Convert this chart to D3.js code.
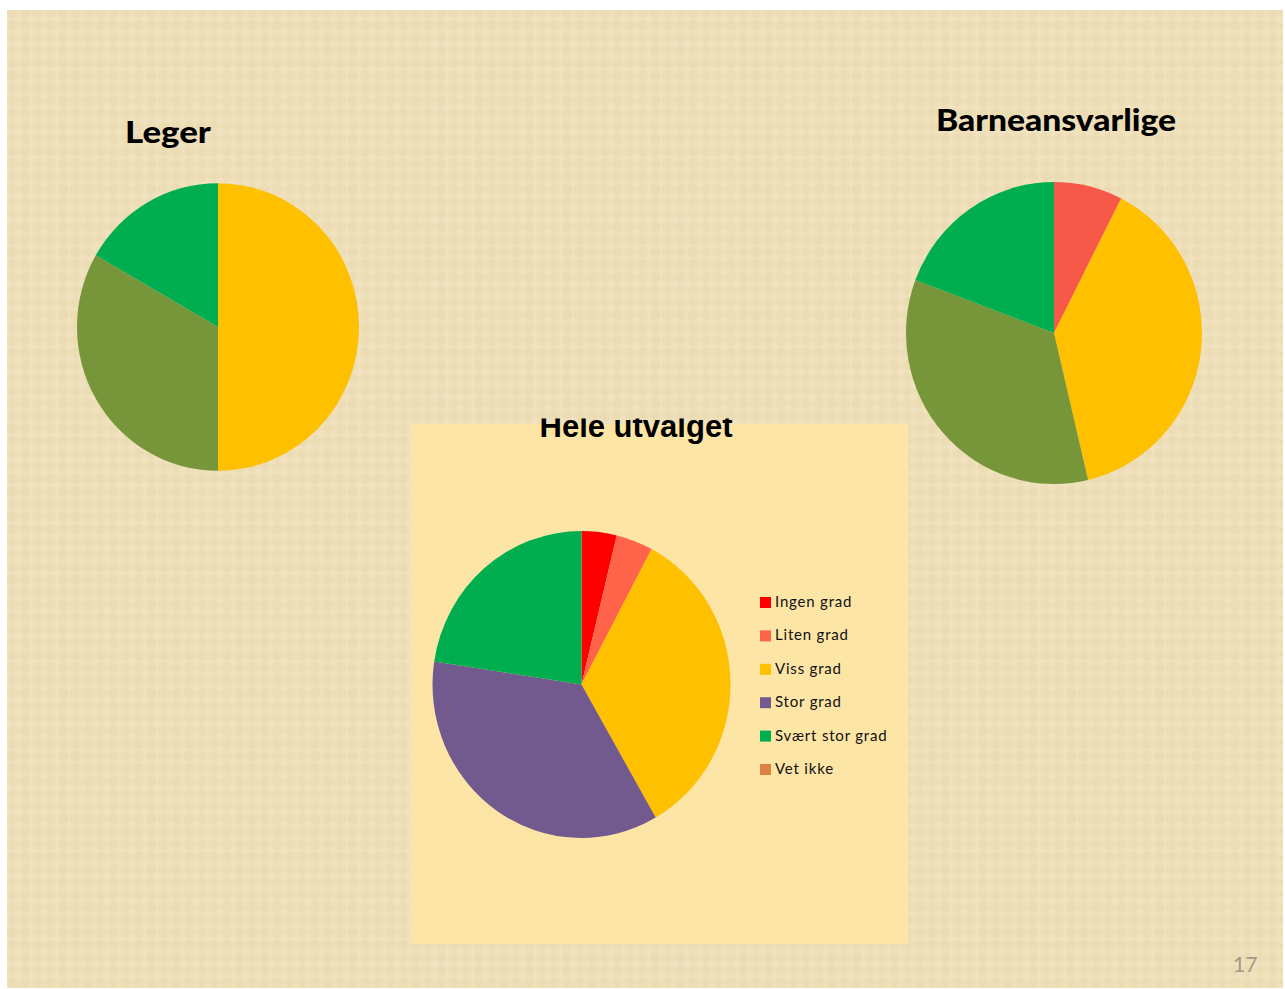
<!DOCTYPE html>
<html>
<head>
<meta charset="utf-8">
<script src="https://cdn.jsdelivr.net/npm/d3@7"></script>
<style>
  html, body { margin: 0; padding: 0; background: #ffffff; }
  svg { display: block; }
</style>
</head>
<body>
<svg id="chart" width="1285" height="989"></svg>
<script>
// ---- Data ----
const categories = ["Ingen grad", "Liten grad", "Viss grad", "Stor grad", "Svært stor grad", "Vet ikke"];
const legerValues = [0, 0, 50.0, 33.3, 16.7, 0];
const barneValues = [0, 7.5, 38.8, 34.4, 19.3, 0];
const heleValues = [3.8, 4.0, 33.9, 35.7, 22.6, 0];
const chartTitles = ["Leger", "Barneansvarlige", "Hele utvalget"];
const pageNumber = "17";

// ---- Colours ----
const heleColors = ["#ff0000", "#ff6349", "#ffc000", "#725a8f", "#00ae50", "#dc8244"];
const subColors  = ["#ff0000", "#f6594a", "#ffc000", "#77963a", "#00ae50", "#dc8244"];

const svg = d3.select("#chart");
const defs = svg.append("defs");

// textured slide background
const T = 12.6;
const pat = defs.append("pattern")
  .attr("id", "tex").attr("patternUnits", "userSpaceOnUse")
  .attr("width", T).attr("height", T);
pat.append("rect").attr("width", T).attr("height", T).attr("fill", "#ecdcb4");
pat.append("rect").attr("x", 2).attr("y", 2).attr("width", T - 4).attr("height", T - 4).attr("fill", "#efe0ba");
pat.append("rect").attr("x", 5.6).attr("y", 0).attr("width", 1.4).attr("height", T).attr("fill", "#f2e4c2");
pat.append("rect").attr("x", 0).attr("y", 5.6).attr("width", T).attr("height", 1.4).attr("fill", "#f2e4c2");

svg.append("rect").attr("x", 7).attr("y", 10).attr("width", 1276).attr("height", 978)
  .attr("fill", "url(#tex)");

// ---- Pie helper ----
const pie = d3.pie().sort(null).value(d => d.value);

function drawPie(values, colors, cx, cy, r, sy) {
  const data = categories.map((c, i) => ({ cat: c, value: values[i], color: colors[i] }));
  const arc = d3.arc().innerRadius(0).outerRadius(r);
  const g = svg.append("g").attr("transform", `translate(${cx},${cy}) scale(1,${sy})`);
  g.selectAll("path")
    .data(pie(data).filter(d => d.data.value > 0))
    .join("path")
    .attr("d", arc)
    .attr("fill", d => d.data.color);
}

// Leger
svg.append("text").attr("x", 125).attr("y", 143)
  .attr("font-family", "Lato, 'Open Sans', sans-serif").attr("font-weight", 900)
  .attr("font-size", 31).attr("fill", "#000")
  .attr("textLength", 86).attr("lengthAdjust", "spacingAndGlyphs")
  .text(chartTitles[0]);
drawPie(legerValues, subColors, 218, 327, 141, 1.02);

// Barneansvarlige
svg.append("text").attr("x", 936).attr("y", 131)
  .attr("font-family", "Lato, 'Open Sans', sans-serif").attr("font-weight", 900)
  .attr("font-size", 31).attr("fill", "#000")
  .attr("textLength", 240).attr("lengthAdjust", "spacingAndGlyphs")
  .text(chartTitles[1]);
drawPie(barneValues, subColors, 1054, 333, 148, 1.02);

// Hele utvalget panel
svg.append("rect").attr("x", 411).attr("y", 424).attr("width", 497).attr("height", 520)
  .attr("fill", "#fde5a5");

defs.append("clipPath").attr("id", "titleClip")
  .append("rect").attr("x", 400).attr("y", 418.5).attr("width", 520).attr("height", 60);

svg.append("text").attr("x", 636).attr("y", 437)
  .attr("clip-path", "url(#titleClip)")
  .attr("text-anchor", "middle")
  .attr("font-family", "'Liberation Sans', Arial, sans-serif").attr("font-weight", 700)
  .attr("font-size", 31).attr("fill", "#000")
  .text(chartTitles[2]);

drawPie(heleValues, heleColors, 581.5, 684.5, 149, 1.03);

// Legend
const legend = svg.append("g").attr("transform", "translate(760,597)");
const rows = legend.selectAll("g").data(categories).join("g")
  .attr("transform", (d, i) => `translate(0,${i * 33.4})`);
rows.append("rect").attr("width", 11).attr("height", 11)
  .attr("fill", (d, i) => heleColors[i]);
rows.append("text").attr("x", 15).attr("y", 10)
  .attr("font-family", "Lato, 'Open Sans', sans-serif").attr("font-size", 15)
  .attr("letter-spacing", 0.8)
  .attr("fill", "#111")
  .text(d => d);

// page number
svg.append("text").attr("x", 1233).attr("y", 972)
  .attr("font-family", "Lato, sans-serif").attr("font-size", 21)
  .attr("fill", "#a39883")
  .text(pageNumber);
</script>
</body>
</html>
